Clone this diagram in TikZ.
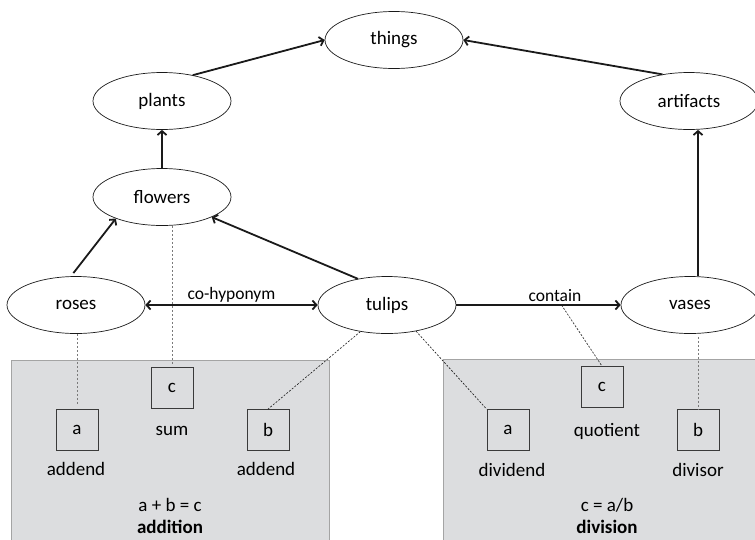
\documentclass[tikz,border=0pt]{standalone}
\usepackage{fontspec}
\setmainfont{Carlito}
\usetikzlibrary{shapes.geometric,arrows.meta,calc}
\definecolor{panelfill}{HTML}{DCDDDF}
\definecolor{panelline}{HTML}{A4A4A4}
\definecolor{ink}{HTML}{1A1A1A}
\definecolor{boxline}{HTML}{3A3A3A}
\definecolor{dashgray}{HTML}{7A7A7A}
\tikzset{
  concept/.style={ellipse,draw=ink,line width=0.7pt,minimum width=138pt,minimum height=57pt,inner sep=0pt,font=\fontsize{19}{22}\selectfont},
  varbox/.style={rectangle,draw=boxline,line width=0.8pt,minimum width=42pt,minimum height=41pt,inner sep=0pt,font=\fontsize{19}{22}\selectfont},
  txt/.style={inner sep=0pt,font=\fontsize{19}{22}\selectfont},
  btxt/.style={inner sep=0pt,font=\fontsize{19}{22}\selectfont\bfseries},
  rel/.style={draw=ink,line width=1.8pt,-{Straight Barb[length=4pt,width=9pt]}},
  birel/.style={draw=ink,line width=1.8pt,{Straight Barb[length=4pt,width=9pt]}-{Straight Barb[length=4pt,width=9pt]}},
  lbl/.style={inner sep=2pt,font=\fontsize{17.5}{20}\selectfont},
  dsh/.style={draw=dashgray,line width=0.9pt,dash pattern=on 2.5pt off 1.5pt},
  dshfine/.style={draw=ink,line width=0.6pt,dash pattern=on 2pt off 1.5pt},
}
\begin{document}
\begin{tikzpicture}[x=1pt,y=-1pt]
\useasboundingbox (0,0) rectangle (755,539);
\clip (0,0) rectangle (755,539);
% panels
\fill[panelfill] (11,360) rectangle (329,545);
\draw[panelline,line width=0.8pt] (11,545) -- (11,360) -- (329,360) -- (329,545);
\fill[panelfill] (443,359) rectangle (760,545);
\draw[panelline,line width=0.8pt] (443,545) -- (443,359) -- (760,359);
% concept nodes
\node[concept] (things) at (394,40) {things};
\node[concept] (plants) at (162,101) {plants};
\node[concept] (artifacts) at (689,101) {artifacts};
\node[concept] (flowers) at (162,197) {flowers};
\node[concept] (roses) at (76,305) {roses};
\node[concept] (tulips) at (387,305) {tulips};
\node[concept] (vases) at (690,305) {vases};
% variable boxes
\node[varbox] (aL) at (77,430) {a};
\node[varbox] (cL) at (172,388) {c};
\node[varbox] (bL) at (268,430) {b};
\node[varbox] (aR) at (508,430) {a};
\node[varbox] (cR) at (602,387) {c};
\node[varbox] (bR) at (698,430) {b};
% texts
\node[txt] (t1) at (76,469) {addend};
\node[txt] (t2) at (172,431) {sum};
\node[txt] (t3) at (266,469) {addend};
\node[txt] (t4) at (170,505) {a + b = c};
\node[btxt] (t5) at (170,527) {addition};
\node[txt] (t6) at (512,470) {dividend};
\node[txt] (t7) at (607,431) {quotient};
\node[txt] (t8) at (698,470) {divisor};
\node[txt] (t9) at (607,505) {c = a/b};
\node[btxt] (t10) at (607,527) {division};
% relations
\draw[rel] (plants.40) -- (things.west);
\draw[rel] (artifacts.135) -- (things.east);
\draw[rel] (flowers.north) -- (plants.south);
\draw[rel] (bR.north |- vases.north) -- (bR.north |- artifacts.south);
\draw[rel,shorten <=4pt] (roses.100) -- (flowers.205);
\draw[rel] (tulips.138) -- (flowers.338);
\draw[birel] (roses.east) -- node[lbl,above] {co-hyponym} (tulips.west);
\draw[rel] (tulips.east) -- node[lbl,above,pos=0.6] {contain} coordinate[pos=0.64] (cpt) (vases.west);
% dashed mappings
\draw[dsh,shorten >=4pt] (roses.south -| aL.north) -- (aL.north);
\draw[dsh,shorten >=2pt] (flowers.south -| cL.north) -- (cL.north);
\draw[dshfine] (tulips.225) -- (bL.north);
\draw[dshfine] (tulips.318) -- (aR.north west);
\draw[dshfine] (cpt) -- (cR.north);
\draw[dsh,shorten <=3pt] (vases.south -| bR.north) -- (bR.north);
\end{tikzpicture}
\end{document}
